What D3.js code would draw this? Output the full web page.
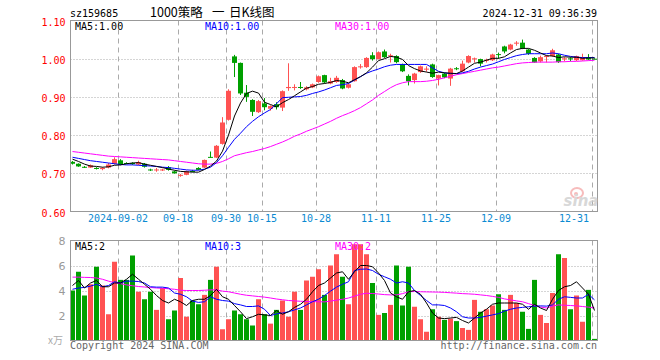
<!DOCTYPE html>
<html>
<head>
<meta charset="utf-8">
<script src="https://cdn.jsdelivr.net/npm/d3@7"></script>
<style>
  body { margin: 0; background: #fff; }
  svg { display: block; }
  .mono { font-family: "DejaVu Sans Mono", monospace; font-size: 10px; }
</style>
</head>
<body>
<script>
// trading days shown on the chart
var dates = [
  "2024-08-21","2024-08-22","2024-08-23","2024-08-26","2024-08-27","2024-08-28","2024-08-29","2024-08-30",
  "2024-09-02","2024-09-03","2024-09-04","2024-09-05","2024-09-06","2024-09-09","2024-09-10","2024-09-11",
  "2024-09-12","2024-09-13","2024-09-18","2024-09-19","2024-09-20","2024-09-23","2024-09-24","2024-09-25",
  "2024-09-26","2024-09-27","2024-09-30","2024-10-08","2024-10-09","2024-10-10","2024-10-11","2024-10-14",
  "2024-10-15","2024-10-16","2024-10-17","2024-10-18","2024-10-21","2024-10-22","2024-10-23","2024-10-24",
  "2024-10-25","2024-10-28","2024-10-29","2024-10-30","2024-10-31","2024-11-01","2024-11-04","2024-11-05",
  "2024-11-06","2024-11-07","2024-11-08","2024-11-11","2024-11-12","2024-11-13","2024-11-14","2024-11-15",
  "2024-11-18","2024-11-19","2024-11-20","2024-11-21","2024-11-22","2024-11-25","2024-11-26","2024-11-27",
  "2024-11-28","2024-11-29","2024-12-02","2024-12-03","2024-12-04","2024-12-05","2024-12-06","2024-12-09",
  "2024-12-10","2024-12-11","2024-12-12","2024-12-13","2024-12-16","2024-12-17","2024-12-18","2024-12-19",
  "2024-12-20","2024-12-23","2024-12-24","2024-12-25","2024-12-26","2024-12-27","2024-12-30","2024-12-31"
];

var open = [0.730,0.725,0.717,0.715,0.714,0.711,0.715,0.725,0.734,0.727,
  0.727,0.723,0.725,0.710,0.708,0.708,0.716,0.705,0.694,0.696,
  0.706,0.714,0.715,0.743,0.741,0.777,0.840,1.006,0.989,0.911,
  0.892,0.860,0.883,0.869,0.881,0.872,0.923,0.924,0.926,0.920,
  0.925,0.939,0.957,0.935,0.939,0.944,0.924,0.941,0.978,0.978,
  1.009,0.999,1.019,1.007,1.007,0.985,0.955,0.944,0.965,0.972,
  0.985,0.948,0.961,0.948,0.975,0.967,0.990,1.000,0.999,0.995,
  0.996,1.012,1.032,1.024,1.041,1.042,1.024,1.002,0.993,1.005,
  1.007,1.011,0.999,1.001,0.996,0.996,1.003,1.000];

var high = [0.732,0.726,0.719,0.723,0.716,0.716,0.727,0.742,0.737,0.729,
  0.729,0.733,0.727,0.712,0.714,0.712,0.719,0.707,0.698,0.707,
  0.709,0.716,0.736,0.757,0.774,0.847,0.920,1.010,0.990,0.931,
  0.894,0.892,0.897,0.878,0.886,0.917,0.988,0.933,0.939,0.928,
  0.935,0.956,0.958,0.950,0.955,0.947,0.935,0.980,0.986,1.004,
  1.017,1.019,1.024,1.013,1.009,0.987,0.959,0.963,0.982,0.980,
  0.987,0.958,0.963,0.976,0.978,0.995,1.009,1.003,1.000,1.000,
  1.013,1.016,1.034,1.039,1.046,1.050,1.026,1.004,1.008,1.009,
  1.026,1.013,1.004,1.004,1.008,1.013,1.012,1.001];

var low = [0.723,0.717,0.714,0.714,0.710,0.708,0.713,0.723,0.721,0.724,
  0.722,0.721,0.715,0.706,0.704,0.706,0.707,0.699,0.691,0.695,
  0.703,0.708,0.714,0.741,0.740,0.775,0.838,0.952,0.905,0.887,
  0.850,0.858,0.865,0.864,0.867,0.863,0.916,0.917,0.921,0.917,
  0.923,0.937,0.935,0.933,0.937,0.920,0.922,0.940,0.974,0.976,
  0.995,0.998,1.002,0.990,0.988,0.965,0.930,0.935,0.963,0.966,
  0.950,0.930,0.949,0.929,0.970,0.965,0.988,0.990,0.980,0.990,
  0.994,1.000,1.014,1.022,1.034,1.025,1.010,0.990,0.990,0.990,
  1.005,0.989,0.993,0.993,0.994,0.995,0.996,0.998];

var close = [0.725,0.718,0.716,0.721,0.712,0.714,0.723,0.737,0.723,0.726,
  0.724,0.729,0.717,0.709,0.710,0.710,0.709,0.700,0.696,0.705,
  0.704,0.709,0.735,0.742,0.772,0.833,0.916,0.989,0.909,0.900,
  0.861,0.889,0.873,0.876,0.873,0.915,0.926,0.926,0.925,0.925,
  0.933,0.954,0.938,0.941,0.950,0.922,0.933,0.978,0.980,1.002,
  0.999,1.017,1.004,1.009,0.991,0.967,0.941,0.961,0.980,0.974,
  0.952,0.957,0.951,0.974,0.973,0.987,1.007,1.001,0.987,0.997,
  1.011,1.011,1.019,1.037,1.042,1.026,1.013,0.990,1.004,1.007,
  1.022,0.991,1.001,1.000,1.007,1.004,0.998,0.999];

// volume, in 万
var volume = [4.0,5.5,3.6,4.5,5.9,4.4,2.1,6.3,4.85,4.85,
  6.8,3.9,3.3,3.9,2.45,4.2,1.7,2.4,5.0,1.9,
  3.2,2.9,3.65,4.85,5.9,0.9,1.7,2.4,2.1,1.7,
  1.2,3.3,2.1,1.35,2.45,3.2,1.9,3.9,2.45,4.8,
  5.1,5.7,3.65,6.0,6.9,5.1,2.9,7.7,7.7,6.9,
  4.6,2.05,2.2,2.85,6.0,2.8,5.9,2.7,1.7,0.7,
  2.5,1.9,1.65,1.75,1.55,1.0,0.85,3.25,2.3,2.5,
  2.8,3.7,2.45,3.65,3.0,2.3,0.93,4.85,2.05,1.4,
  3.8,6.9,6.6,2.5,3.6,1.5,4.05,0.13];

// moving averages as drawn on the chart
var ma5 = [0.737,0.731,0.724,0.719,0.718,0.716,0.717,0.721,0.722,0.725,
  0.727,0.728,0.724,0.721,0.718,0.715,0.711,0.708,0.705,0.704,
  0.703,0.703,0.710,0.719,0.732,0.758,0.800,0.850,0.884,0.909,
  0.915,0.910,0.886,0.880,0.874,0.885,0.893,0.903,0.913,0.923,
  0.927,0.933,0.935,0.938,0.943,0.941,0.937,0.945,0.953,0.963,
  0.978,0.995,1.000,1.006,1.004,0.998,0.982,0.974,0.968,0.965,
  0.962,0.965,0.963,0.962,0.961,0.968,0.978,0.988,0.991,0.996,
  1.001,1.001,1.005,1.015,1.024,1.027,1.027,1.022,1.015,1.008,
  1.007,1.003,1.005,1.004,1.004,1.001,1.002,1.002];

var ma10 = [0.742,0.739,0.736,0.733,0.731,0.729,0.727,0.725,0.723,0.722,
  0.722,0.721,0.720,0.719,0.718,0.716,0.715,0.713,0.711,0.709,
  0.708,0.708,0.711,0.716,0.728,0.746,0.768,0.789,0.805,0.822,
  0.836,0.848,0.858,0.867,0.882,0.898,0.899,0.900,0.901,0.904,
  0.909,0.913,0.918,0.924,0.930,0.932,0.935,0.944,0.953,0.962,
  0.968,0.973,0.979,0.983,0.985,0.985,0.985,0.985,0.985,0.985,
  0.976,0.967,0.963,0.961,0.961,0.963,0.967,0.973,0.978,0.982,
  0.986,0.992,0.998,1.003,1.008,1.011,1.013,1.013,1.013,1.013,
  1.015,1.013,1.009,1.006,1.004,1.003,1.003,1.003];

var ma30 = [0.757,0.755,0.753,0.751,0.749,0.747,0.745,0.744,0.743,0.742,
  0.741,0.740,0.739,0.738,0.737,0.736,0.735,0.733,0.731,0.729,
  0.727,0.725,0.724,0.724,0.726,0.731,0.738,0.746,0.750,0.754,
  0.757,0.761,0.765,0.770,0.776,0.782,0.789,0.797,0.803,0.810,
  0.816,0.822,0.829,0.836,0.844,0.851,0.857,0.864,0.872,0.882,
  0.892,0.904,0.914,0.924,0.932,0.937,0.940,0.940,0.940,0.941,
  0.943,0.946,0.950,0.954,0.958,0.961,0.964,0.967,0.970,0.973,
  0.976,0.978,0.981,0.984,0.987,0.989,0.990,0.991,0.991,0.991,
  0.991,0.992,0.992,0.993,0.993,0.994,0.995,0.996];

var vma5 = [4.4,4.8,4.2,4.6,4.8,4.3,4.3,4.6,4.6,4.9,
  5.3,4.9,4.5,4.1,3.6,3.2,3.0,3.3,3.1,2.8,
  3.2,3.3,3.3,3.6,4.1,3.5,3.3,2.8,2.3,1.75,
  1.9,2.1,2.05,2.0,2.4,2.1,2.3,2.65,2.9,3.3,
  3.9,4.4,4.6,5.0,5.4,5.5,4.9,5.5,6.0,6.0,
  5.9,5.4,4.8,3.8,3.5,3.3,3.9,4.0,3.7,3.0,
  2.2,1.8,1.75,1.8,1.85,1.6,1.4,1.8,2.2,2.5,
  2.9,3.0,3.0,3.0,3.0,2.9,2.5,2.9,2.6,2.4,
  3.3,4.0,4.3,4.4,4.7,4.2,3.7,2.4];

var vma10 = [4.1,4.2,4.25,4.35,4.5,4.3,4.4,4.7,4.6,4.75,
  4.75,4.72,4.6,4.3,4.27,4.27,4.2,3.8,3.7,3.5,
  3.15,3.05,3.1,3.5,3.3,3.2,3.15,2.95,2.85,2.72,
  2.72,2.77,2.5,2.0,2.13,2.2,2.3,2.45,2.6,2.85,
  3.1,3.3,3.6,3.95,4.27,4.5,4.7,5.6,5.7,5.72,
  5.6,5.3,5.1,4.9,4.6,4.7,4.6,4.0,3.6,3.2,
  2.85,2.85,2.8,2.6,2.3,1.9,1.8,1.8,1.85,1.95,
  2.05,2.15,2.35,2.5,2.6,2.65,2.7,2.75,2.77,2.75,
  2.85,3.3,3.5,3.45,3.4,3.4,3.7,3.25];

var vma30 = [5.07,5.07,5.05,5.04,5.0,4.9,4.75,4.63,4.55,4.45,
  4.38,4.32,4.28,4.24,4.2,4.18,4.14,4.1,4.02,4.0,
  4.0,4.0,4.02,4.05,4.05,3.95,3.9,3.8,3.7,3.62,
  3.57,3.52,3.47,3.4,3.32,3.26,3.2,3.17,3.14,3.12,
  3.11,3.1,3.09,3.15,3.23,3.3,3.4,3.55,3.7,3.78,
  3.76,3.72,3.67,3.65,3.65,3.75,3.9,3.92,3.9,3.89,
  3.88,3.87,3.85,3.82,3.79,3.75,3.73,3.7,3.65,3.6,
  3.53,3.45,3.33,3.25,3.17,3.1,2.95,2.8,2.68,2.6,
  2.75,2.85,2.82,2.8,2.77,2.72,2.67,2.6];

var tickDates = ["2024-09-02","2024-09-18","2024-09-30","2024-10-15","2024-10-28",
  "2024-11-11","2024-11-25","2024-12-09","2024-12-31"];
var tickLabels = ["2024-09-02","09-18","09-30","10-15","10-28","11-11","11-25","12-09","12-31"];
var priceTicks = [0.60, 0.70, 0.80, 0.90, 1.00, 1.10];
var volTicks = [2, 4, 6, 8];

var RED = "#ff5252", GREEN = "#00a000", GRID = "#aaa", FRAME = "#999";

var svg = d3.select("body").append("svg")
    .attr("width", 660)
    .attr("height", 360);

svg.append("rect").attr("width", 660).attr("height", 360).attr("fill", "#fff");

var left = 70.5, right = 597.5,
    top1 = 20.5, bottom1 = 211.5,
    top2 = 240.5, bottom2 = 340.5;

var x = d3.scaleBand()
    .domain(dates)
    .range([70, 70 + dates.length * 6]);

var y = d3.scaleLinear()
    .domain([0.6, 1.1])
    .range([bottom1, top1]);

var yv = d3.scaleLinear()
    .domain([0, 8])
    .range([bottom2, top2]);

var bw = x.bandwidth() - 1;
var cx = d => x(d) + 2.5;

// grid
var grid = svg.append("g");
grid.selectAll(".hg1")
    .data(priceTicks.slice(1, -1))
    .enter().append("line")
    .attr("x1", left).attr("x2", right)
    .attr("y1", d => Math.round(y(d)) + 0.5).attr("y2", d => Math.round(y(d)) + 0.5)
    .attr("stroke", GRID).attr("stroke-dasharray", "1,2");

grid.selectAll(".hg2")
    .data(volTicks.slice(0, -1))
    .enter().append("line")
    .attr("x1", left).attr("x2", right)
    .attr("y1", d => Math.round(yv(d)) + 0.5).attr("y2", d => Math.round(yv(d)) + 0.5)
    .attr("stroke", GRID).attr("stroke-dasharray", "1,2");

[[top1, bottom1], [top2, bottom2]].forEach(function (r) {
    grid.selectAll(null)
        .data(tickDates)
        .enter().append("line")
        .attr("x1", d => x(d) + 0.5).attr("x2", d => x(d) + 0.5)
        .attr("y1", r[0]).attr("y2", r[1])
        .attr("stroke", GRID).attr("stroke-dasharray", "5,4");
});

// candles
var idx = d3.range(dates.length);
var color = i => close[i] >= open[i] ? RED : GREEN;

var candles = svg.append("g");
candles.selectAll("line")
    .data(idx)
    .enter().append("line")
    .attr("x1", i => cx(dates[i])).attr("x2", i => cx(dates[i]))
    .attr("y1", i => y(high[i])).attr("y2", i => y(low[i]))
    .attr("stroke", color);

candles.selectAll("rect")
    .data(idx)
    .enter().append("rect")
    .attr("x", i => x(dates[i]))
    .attr("width", bw)
    .attr("y", i => y(Math.max(open[i], close[i])))
    .attr("height", i => Math.max(1, Math.abs(y(open[i]) - y(close[i]))))
    .attr("fill", color);

// volume bars
svg.append("g").selectAll("rect")
    .data(idx)
    .enter().append("rect")
    .attr("x", i => x(dates[i]))
    .attr("width", bw)
    .attr("y", i => yv(volume[i]))
    .attr("height", i => bottom2 - yv(volume[i]))
    .attr("fill", color);

// moving average lines
var line = d3.line().x((d, i) => cx(dates[i])).y(d => y(d));
var vline = d3.line().x((d, i) => cx(dates[i])).y(d => yv(d));

[[ma30, "#ff00ff"], [ma10, "#0000ff"], [ma5, "#000"]].forEach(function (s) {
    svg.append("path").datum(s[0])
        .attr("fill", "none").attr("stroke", s[1]).attr("stroke-width", 1)
        .attr("d", line);
});
[[vma30, "#ff00ff"], [vma10, "#0000ff"], [vma5, "#000"]].forEach(function (s) {
    svg.append("path").datum(s[0])
        .attr("fill", "none").attr("stroke", s[1]).attr("stroke-width", 1)
        .attr("d", vline);
});

// frames
[[top1, bottom1], [top2, bottom2]].forEach(function (r) {
    svg.append("rect")
        .attr("x", left).attr("y", r[0])
        .attr("width", right - left).attr("height", r[1] - r[0])
        .attr("fill", "none").attr("stroke", FRAME);
});

// axes
var ya = svg.append("g")
    .attr("transform", "translate(" + left + ",0)")
    .call(d3.axisLeft(y).tickValues(priceTicks).tickFormat(d3.format(".2f")).tickSize(0).tickPadding(5));
ya.select(".domain").remove();
ya.selectAll("text").attr("fill", "#f00").attr("dy", "0.45em")
    .style("font-family", "DejaVu Sans Mono").style("font-size", "10px");

var va = svg.append("g")
    .attr("transform", "translate(" + left + ",0)")
    .call(d3.axisLeft(yv).tickValues(volTicks).tickSize(0).tickPadding(5));
va.select(".domain").remove();
va.selectAll("text").attr("fill", "#999").attr("dy", "0.36em")
    .style("font-family", "DejaVu Sans").style("font-size", "11px");

var xa = svg.append("g")
    .attr("transform", "translate(-3," + 211 + ")")
    .call(d3.axisBottom(x).tickValues(tickDates)
        .tickFormat(d => tickLabels[tickDates.indexOf(d)]).tickSize(0).tickPadding(4));
xa.select(".domain").remove();
xa.selectAll("text").attr("fill", "#0a8ad2")
    .style("font-family", "DejaVu Sans Mono").style("font-size", "10px");
// last label is pulled inside the frame
xa.selectAll("text").filter(d => d === tickDates[tickDates.length - 1])
    .attr("text-anchor", "end").attr("dx", -3);

// texts
function txt(s, px, py, fill, anchor, font, size) {
    return svg.append("text")
        .attr("x", px).attr("y", py)
        .attr("fill", fill)
        .attr("text-anchor", anchor || "start")
        .style("font-family", font || "DejaVu Sans Mono")
        .style("font-size", (size || 10) + "px")
        .text(s);
}

txt("sz159685", 70, 17, "#000");
txt("1000策略", 150, 17, "#000", "start", "Noto Sans CJK SC", 12.5);
txt("一", 212, 17, "#000", "start", "Noto Sans CJK SC", 12.5);
txt("日K线图", 229, 17, "#000", "start", "Noto Sans CJK SC", 12.5);
txt("2024-12-31 09:36:39", 597, 17, "#000", "end");

txt("MA5:1.00", 75, 29.5, "#000");
txt("MA10:1.00", 205, 29.5, "#0000ff");
txt("MA30:1.00", 335, 29.5, "#ff00ff");

txt("MA5:2", 75, 250, "#000");
txt("MA10:3", 205, 250, "#0000ff");
txt("MA30:2", 335, 250, "#ff00ff");

txt("x万", 63, 344, "#aaa", "end", "Noto Sans CJK SC", 10);
txt("Copyright 2024 SINA.COM", 70, 349, "#666");
txt("http://finance.sina.com.cn", 597, 349, "#666", "end");

// sina watermark
var wm = svg.append("g").attr("opacity", 0.7);
wm.append("ellipse").attr("cx", 577).attr("cy", 193).attr("rx", 6).attr("ry", 5)
    .attr("fill", "none").attr("stroke", "#f4a0a0").attr("stroke-width", 2);
wm.append("circle").attr("cx", 576).attr("cy", 194).attr("r", 2).attr("fill", "#f4a0a0");
wm.append("text").attr("x", 581).attr("y", 206).attr("text-anchor", "middle")
    .attr("fill", "#c8c8c8")
    .style("font-family", "DejaVu Sans").style("font-size", "15px")
    .style("font-style", "italic").style("font-weight", "bold")
    .text("sina");
</script>
</body>
</html>
